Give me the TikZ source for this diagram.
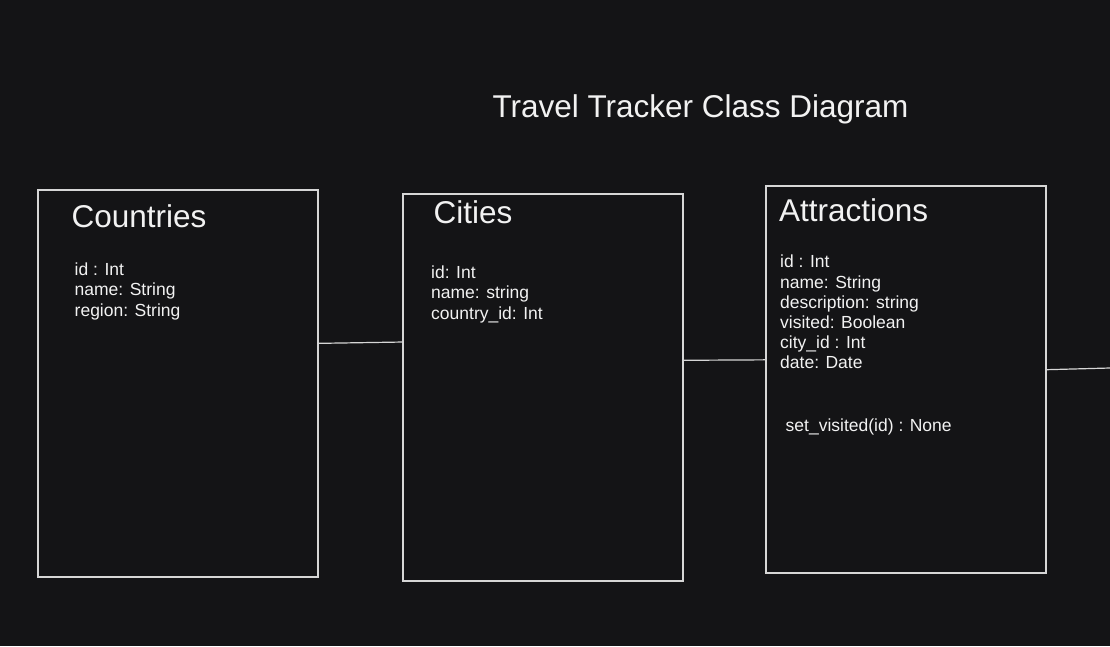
\documentclass[tikz,border=0pt]{standalone}
\usepackage{fontspec}
\setmainfont{Liberation Sans}
\usetikzlibrary{positioning}
\definecolor{bg}{HTML}{141416}
\definecolor{ink}{HTML}{D6D6D6}
\definecolor{txt}{HTML}{F2F2F2}

\begin{document}
\begin{tikzpicture}[x=1pt,y=-1pt,node distance=85pt,
	table/.style={draw=ink,line width=1.2pt,rectangle,minimum width=280pt,minimum height=387pt,inner sep=0pt,outer sep=0pt},
	heading/.style={text=txt,font=\fontsize{31.5}{37}\selectfont,anchor=base west,inner sep=0pt},
	fields/.style={text=txt,font=\fontsize{17.5}{20.2}\selectfont,align=left,anchor=base west,inner sep=0pt},
	link/.style={draw=ink,line width=1.2pt}]
	\useasboundingbox[fill=bg] (0,0) rectangle (1110,646);
	\node[heading,anchor=base]	(title)	at (700.5,117)	{Travel Tracker Class Diagram};
	\node[table]	(countries)	at (178,383.5)	{};
	\node[table]	(cities) [right=85pt of countries,yshift=-4pt]	{};
	\node[table]	(attractions) [right=83pt of cities,yshift=8pt]	{};
	\node[heading]	(countriesname)	at ([shift={(33.5,37)}]countries.north west)	{Countries};
	\node[heading]	(citiesname)	at ([shift={(30.5,29.3)}]cities.north west)	{Cities};
	\node[heading]	(attractionsname)	at ([shift={(13,35.7)}]attractions.north west)	{Attractions};
	\node[fields]	(countriesfields)	at ([shift={(36.5,126)}]countries.north west)	{id : Int\\name: String\\region: String};
	\node[fields]	(citiesfields)	at ([shift={(28,125)}]cities.north west)	{id: Int\\name: string\\country\_id: Int};
	\node[fields]	(attractionsfields)	at ([shift={(14,182.8)}]attractions.north west)	{id : Int\\name: String\\description: string\\visited: Boolean\\city\_id : Int\\date: Date};
	\node[fields]	(attractionsmethod)	at ([shift={(19.5,245.7)}]attractions.north west)	{set\_visited(id) : None};
	\coordinate	(edge)	at (1110,368);
	\path[link]
		(countries.16.7)	edge	(cities.162.1)
		(cities.11.1)	edge	(attractions.172.1)
		(attractions.4.8)	edge	(edge)
		;
\end{tikzpicture}
\end{document}
